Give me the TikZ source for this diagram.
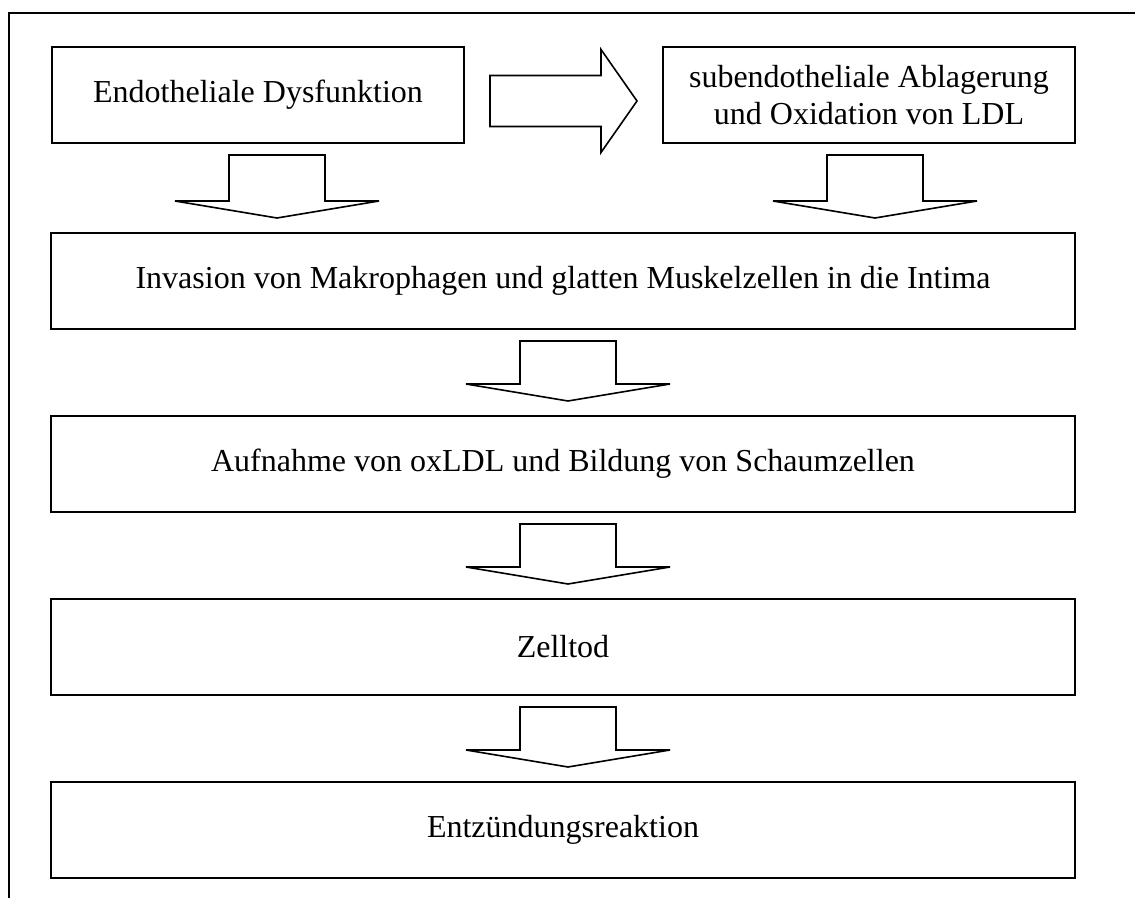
\documentclass[tikz,border=0pt]{standalone}
\usepackage{fontspec}
\setmainfont{Liberation Serif}
\usetikzlibrary{positioning, calc}
\tikzset{
  stepbox/.style={draw, line width=1pt, minimum height=48pt, inner sep=0pt, align=center,
    font=\fontsize{16}{18.5}\selectfont},
  blockarrow/.style={draw, line width=0.8pt, line join=miter},
  frameline/.style={line width=1pt},
}
% block arrow pointing down: #1 = x of the arrow, #2 = upper node, #3 = lower node
\newcommand{\downblock}[3]{%
  \coordinate (t0) at (#1,0 |- #2.south);
  \coordinate (h0) at (#1,0 |- #3.north);
  \coordinate (t) at ($(t0)+(0,11)$);
  \coordinate (h) at ($(h0)+(0,-14)$);
  \draw[blockarrow] ($(t)+(-48,0)$) -- ($(t)+(48,0)$) -- ($(h)+(48,-17)$) -- ($(h)+(102,-17)$)
    -- (h) -- ($(h)+(-102,-17)$) -- ($(h)+(-48,-17)$) -- cycle;}

\begin{document}
\begin{tikzpicture}[x=0.5pt, y=-0.5pt]
  \useasboundingbox (0,0) rectangle (1135,898);
  % frame
  \draw[frameline] (1135,12.7) -- (8.7,12.7) -- (8.7,898);

  % top row
  \node[stepbox, minimum width=206pt] (endo) at (258,95) {Endotheliale Dysfunktion};
  \node[stepbox, minimum width=206pt] (ldl) at (869,95) {subendotheliale Ablagerung\\und Oxidation von LDL};

  % chain of steps
  \node[stepbox, minimum width=512pt] (invasion) at (563,281) {Invasion von Makrophagen und glatten Muskelzellen in die Intima};
  \node[stepbox, minimum width=512pt, below=42.5pt of invasion] (aufnahme) {Aufnahme von oxLDL und Bildung von Schaumzellen};
  \node[stepbox, minimum width=512pt, below=42.5pt of aufnahme] (zelltod) {Zelltod};
  \node[stepbox, minimum width=512pt, below=42.5pt of zelltod] (entzuendung) {Entzündungsreaktion};

  % right arrow
  \coordinate (r) at ($(endo.east)+(25,6)$);
  \coordinate (rt) at ($(ldl.west)+(-25,6)$);
  \draw[blockarrow] ($(r)+(0,-25.5)$) -- ($(rt)+(-36,-25.5)$) -- ($(rt)+(-36,-51.5)$) -- (rt)
    -- ($(rt)+(-36,51.5)$) -- ($(rt)+(-36,25.5)$) -- ($(r)+(0,25.5)$) -- cycle;

  % down arrows
  \downblock{277}{endo}{invasion}
  \downblock{875}{ldl}{invasion}
  \downblock{568}{invasion}{aufnahme}
  \downblock{568}{aufnahme}{zelltod}
  \downblock{568}{zelltod}{entzuendung}
\end{tikzpicture}
\end{document}
